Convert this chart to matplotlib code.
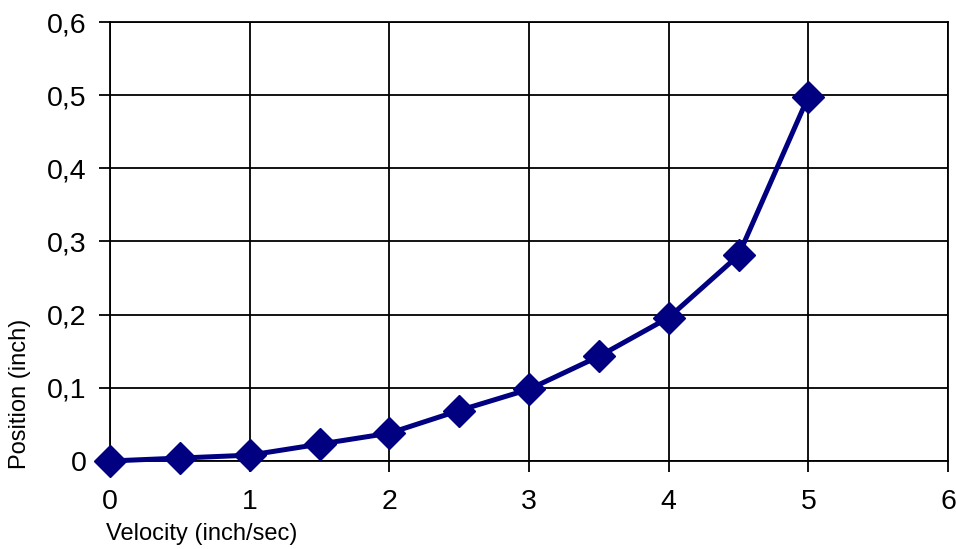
import matplotlib
matplotlib.use("Agg")
import matplotlib.pyplot as plt
from matplotlib.ticker import FuncFormatter

plt.rcParams['font.family'] = ['Liberation Sans', 'DejaVu Sans']

# velocity (inch/sec) vs position (inch)
velocity = [0, 0.5, 1, 1.5, 2, 2.5, 3, 3.5, 4, 4.5, 5]
position = [0.0, 0.004, 0.008, 0.023, 0.038, 0.069, 0.098, 0.143, 0.196, 0.281, 0.498]

fig = plt.figure(figsize=(9.56, 5.49), dpi=100)
ax = fig.add_axes([110/956, 88/549, 838/956, 439/549])

ax.plot(velocity, position, color='#000080', lw=3.6, marker='D', ms=16,
        mec='#000080', mfc='#000080', clip_on=False, zorder=3)

ax.set_xlim(0, 6)
ax.set_ylim(0, 0.6)
ax.set_xticks(range(0, 7))
ax.set_yticks([0, 0.1, 0.2, 0.3, 0.4, 0.5, 0.6])
ax.yaxis.set_major_formatter(FuncFormatter(lambda v, p: ('%g' % round(v, 1)).replace('.', ',')))
ax.grid(True, color='black', lw=1.3)
for s in ax.spines.values():
    s.set_color('black')
    s.set_linewidth(1.3)
ax.tick_params(direction='out', length=8, width=1.3, labelsize=20.5)
ax.tick_params(axis='x', pad=12)
ax.tick_params(axis='y', pad=9)

fig.text(106/956, 1 - 534/549, 'Velocity (inch/sec)', fontsize=17, ha='left', va='center')
fig.text(20/956, 1 - 469/549, 'Position (inch)', fontsize=17, rotation=90, ha='center', va='bottom')

fig.savefig('out.png', dpi=100)
